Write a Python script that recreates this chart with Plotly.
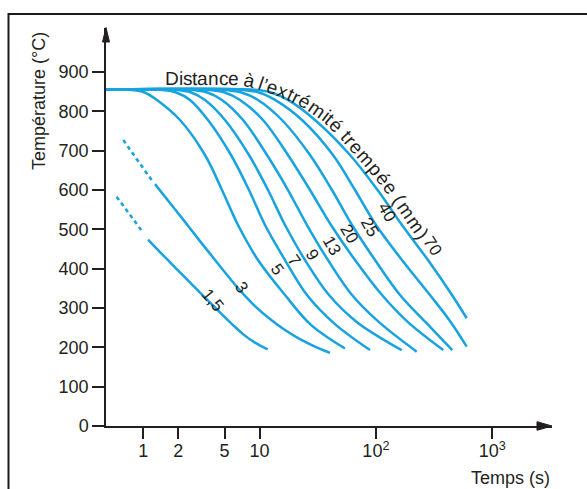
import math
import plotly.graph_objects as go

# Jominy end-quench test: cooling curves at several distances from the quenched end
# time in seconds (log axis), temperature in °C

dist_labels = ["1,5", "3", "5", "7", "9", "13", "20", "25", "40", "70"]

# 1,5 mm and 3 mm: dotted start (extrapolated), then measured part
time_15_dotted = [0.59, 1.0]
temp_15_dotted = [583, 491]
time_15 = [1.098, 1.448, 1.938, 2.520, 3.073, 3.746, 4.565, 5.941, 7.241, 9.129, 11.74]
temp_15 = [474, 437, 399, 365, 339, 314, 289, 256, 233, 212, 195]

time_3_dotted = [0.673, 1.181]
temp_3_dotted = [727, 625]
time_3 = [1.261, 1.696, 2.284, 3.073, 4.276, 5.567, 6.785, 9.129, 12.29, 16.54, 22.25, 29.95, 40.31]
temp_3 = [615, 567, 519, 470, 417, 375, 345, 305, 272, 244, 221, 202, 186]

time_5 = [0.478, 0.768, 1.026, 1.311, 2.069, 3.393, 4.750, 5.676, 6.522, 9.687, 16.54, 27.67, 54.25]
temp_5 = [855, 855, 848, 829, 778, 689, 600, 549, 511, 422, 333, 257, 197]

time_7 = [0.478, 1.392, 1.918, 2.520, 3.600, 5.676, 8.107, 11.13, 16.54, 25.56, 44.49, 88.98]
temp_7 = [855, 855, 848, 829, 778, 689, 600, 511, 422, 333, 259, 193]

time_9 = [0.478, 1.874, 2.581, 3.393, 5.041, 8.107, 11.81, 16.54, 24.57, 39.51, 68.80, 166.7]
temp_9 = [855, 855, 848, 829, 778, 689, 600, 511, 422, 333, 264, 193]

time_13 = [0.478, 2.520, 3.550, 4.750, 7.200, 11.58, 17.55, 25.56, 38.73, 62.31, 106.4, 224.3]
temp_13 = [855, 855, 848, 829, 778, 689, 600, 511, 422, 333, 264, 189]

time_20 = [0.478, 3.530, 5.022, 6.785, 10.70, 17.55, 27.13, 41.11, 66.12, 112.9, 188.7, 379.8]
temp_20 = [855, 855, 848, 829, 778, 689, 600, 511, 422, 333, 264, 193]

time_25 = [0.478, 4.750, 6.974, 9.687, 15.58, 27.13, 41.94, 62.31, 98.24, 161.2, 267.3, 453.9]
temp_25 = [855, 855, 848, 829, 778, 689, 600, 511, 422, 333, 264, 193]

time_40 = [0.478, 6.785, 9.863, 13.57, 23.15, 42.77, 66.12, 100.2, 167.6, 291.9, 426.0, 603.6]
temp_40 = [855, 855, 848, 829, 778, 689, 600, 511, 422, 333, 270, 202]

time_70 = [0.478, 9.129, 12.58, 17.54, 29.95, 59.89, 103.4, 167.6, 280.5, 451.2, 603.6]
temp_70 = [855, 855, 848, 829, 778, 689, 600, 511, 422, 333, 274]

# where each distance label sits (time s, temperature °C) and its rotation
label_time = [3.975, 6.99, 14.11, 19.68, 28.28, 41.94, 59.89, 87.25, 124.3, 303.7]
label_temp = [320, 353, 397, 420, 437, 460, 488, 506, 542, 458]
label_angle = [50, 55, 55, 55, 58, 60, 60, 60, 60, 58]

x_ticks = [1, 2, 5, 10, 100, 1000]
x_ticktext = ["1", "2", "5", "10", "10<sup>2</sup>", "10<sup>3</sup>"]
y_ticks = list(range(0, 1000, 100))

# ---- styling / geometry ----
W, H = 587, 489
ML, MR, MT, MB = 106, 35, 28, 63
PW, PH = W - ML - MR, H - MT - MB
BLUE = "#17A3E0"
INK = "#231F20"
FONT = "Liberation Sans, Arial, sans-serif"
X_MIN, X_MAX = 0.478, 3268
Y_MAX = 1011.9


def paper(px, py):
    return (px - ML) / PW, (H - MB - py) / PH


fig = go.Figure()

solid_curves = [
    (time_15, temp_15), (time_3, temp_3), (time_5, temp_5), (time_7, temp_7),
    (time_9, temp_9), (time_13, temp_13), (time_20, temp_20), (time_25, temp_25),
    (time_40, temp_40), (time_70, temp_70),
]
for tx, ty in solid_curves:
    fig.add_trace(go.Scatter(x=tx, y=ty, mode="lines",
                             line=dict(color=BLUE, width=2.5, shape="spline", smoothing=1.0),
                             hoverinfo="skip"))

for tx, ty in [(time_15_dotted, temp_15_dotted), (time_3_dotted, temp_3_dotted)]:
    fig.add_trace(go.Scatter(x=tx, y=ty, mode="lines",
                             line=dict(color=BLUE, width=2.5, dash="4px,3.5px"),
                             hoverinfo="skip"))

annotations = []
for lab, t, temp, ang in zip(dist_labels, label_time, label_temp, label_angle):
    annotations.append(dict(x=math.log10(t), y=temp, xref="x", yref="y", text=lab,
                            showarrow=False, textangle=ang,
                            font=dict(family=FONT, size=17, color=INK),
                            xanchor="center", yanchor="middle"))

# curved caption following the outermost curve, one glyph at a time
caption = "Distance à l’extrémité trempée (mm)"
em = {'D': .722, 'i': .222, 's': .5, 't': .278, 'a': .556, 'n': .556, 'c': .5,
      'e': .556, ' ': .278, 'à': .556, 'l': .222, '’': .222, 'x': .5, 'r': .333,
      'é': .556, 'm': .833, 'p': .556, '(': .333, ')': .333}
cap_size = 19
cap_path = [(165, 78), (240, 78.5), (252, 80.5), (265, 85), (283, 91), (300, 99),
            (315, 108), (330, 119), (343, 132), (355, 146), (368, 160), (380, 174),
            (392, 190), (405, 209), (420, 230), (440, 258)]
seg = []
for (x0, y0), (x1, y1) in zip(cap_path[:-1], cap_path[1:]):
    seg.append(math.hypot(x1 - x0, y1 - y0))


def along(s):
    s = max(0.0, s)
    for i, L in enumerate(seg):
        if s <= L or i == len(seg) - 1:
            (x0, y0), (x1, y1) = cap_path[i], cap_path[i + 1]
            f = s / L
            return x0 + f * (x1 - x0), y0 + f * (y1 - y0)
        s -= L


s = 0.0
for k, ch in enumerate(caption):
    adv = em[ch] * cap_size * (1.0 if k < 13 else 1.1)
    mid = s + adv / 2
    s += adv
    if ch == " ":
        continue
    cx, cy = along(mid)
    ax, ay = along(mid - 7)
    bx, by = along(mid + 7)
    ang = math.degrees(math.atan2(by - ay, bx - ax))
    px_, py_ = paper(cx, cy)
    annotations.append(dict(x=px_, y=py_, xref="paper", yref="paper", text=ch,
                            showarrow=False, textangle=ang,
                            font=dict(family=FONT, size=cap_size, color=INK),
                            xanchor="center", yanchor="middle"))

# axis titles
tx_, ty_ = paper(39, 101)
annotations.append(dict(x=tx_, y=ty_, xref="paper", yref="paper", text="Température (°C)",
                        showarrow=False, textangle=-90,
                        font=dict(family=FONT, size=18, color=INK),
                        xanchor="center", yanchor="middle"))
tx_, ty_ = paper(510, 478)
annotations.append(dict(x=tx_, y=ty_, xref="paper", yref="paper", text="Temps (s)",
                        showarrow=False, font=dict(family=FONT, size=18, color=INK),
                        xanchor="center", yanchor="middle"))


def tri(pts):
    p = [paper(*q) for q in pts]
    return "M{},{} L{},{} L{},{} Z".format(p[0][0], p[0][1], p[1][0], p[1][1], p[2][0], p[2][1])


shapes = [
    dict(type="path", xref="paper", yref="paper",
         path=tri([(106, 27.5), (102.5, 42), (109.5, 42)]),
         fillcolor=INK, line=dict(color=INK, width=1)),
    dict(type="path", xref="paper", yref="paper",
         path=tri([(552, 426), (537, 421.7), (537, 430.3)]),
         fillcolor=INK, line=dict(color=INK, width=1)),
]
fx0, fy1 = paper(8.5, 14)
fx1, fy0 = paper(600, 500)
shapes.append(dict(type="rect", xref="paper", yref="paper", x0=fx0, y0=fy0, x1=fx1, y1=fy1,
                   line=dict(color="#1a1a1a", width=2), fillcolor="rgba(0,0,0,0)"))

fig.update_layout(
    width=W, height=H,
    margin=dict(l=ML, r=MR, t=MT, b=MB, pad=0),
    paper_bgcolor="white", plot_bgcolor="white",
    showlegend=False,
    annotations=annotations,
    shapes=shapes,
    xaxis=dict(type="log", range=[math.log10(X_MIN), math.log10(X_MAX)],
               tickvals=x_ticks, ticktext=x_ticktext,
               showline=True, linecolor=INK, linewidth=1.5,
               ticks="outside", ticklen=11, tickwidth=1.5, tickcolor=INK,
               ticklabelstandoff=-3,
               showgrid=False, zeroline=False,
               tickfont=dict(family=FONT, size=18, color=INK)),
    yaxis=dict(range=[0, Y_MAX], tickvals=y_ticks,
               showline=True, linecolor=INK, linewidth=1.5,
               ticks="outside", ticklen=12, tickwidth=1.5, tickcolor=INK,
               showgrid=False, zeroline=False,
               tickfont=dict(family=FONT, size=18, color=INK)),
)

fig.write_html("out.html")
